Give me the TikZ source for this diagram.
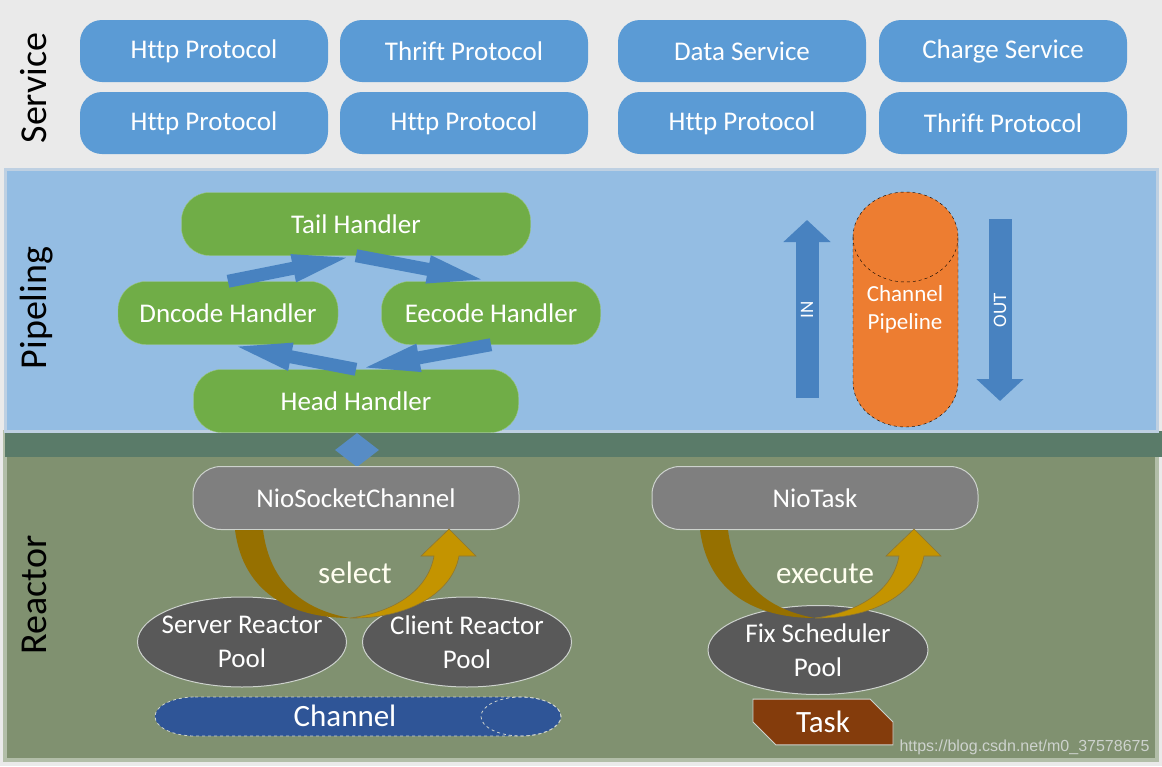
\documentclass[tikz,border=0pt]{standalone}
\usepackage{fontspec}
\setmainfont{Carlito}[Ligatures=NoCommon]
\newfontfamily\urlfont{Liberation Sans}
\usetikzlibrary{shapes.geometric,shapes.misc,arrows.meta}
\definecolor{bggray}{RGB}{234,234,234}
\definecolor{pipeblue}{RGB}{148,189,227}
\definecolor{pipeedge}{RGB}{190,208,226}
\definecolor{bandgreen}{RGB}{90,123,105}
\definecolor{reactgreen}{RGB}{128,145,112}
\definecolor{reactedge}{RGB}{178,190,168}
\definecolor{servblue}{RGB}{91,155,213}
\definecolor{handgreen}{RGB}{112,173,71}
\definecolor{arrowblue}{RGB}{72,130,192}
\definecolor{chanorange}{RGB}{237,125,49}
\definecolor{niogray}{RGB}{127,127,127}
\definecolor{poolgray}{RGB}{89,89,89}
\definecolor{chanblue}{RGB}{47,85,151}
\definecolor{taskbrown}{RGB}{132,60,12}
\definecolor{golddark}{RGB}{150,112,0}
\definecolor{goldlight}{RGB}{196,148,0}
\definecolor{softline}{RGB}{205,210,205}

\begin{document}
\begin{tikzpicture}[x=1pt,y=-1pt,
    layerlabel/.style={rotate=90, font=\fontsize{38}{40}\selectfont},
    servbox/.style={rectangle, rounded corners=22pt, fill=servblue, text=white, minimum width=248pt, minimum height=62pt, font=\fontsize{27}{30}\selectfont},
    handler/.style={rectangle, rounded corners=28pt, fill=handgreen, draw=handgreen!70!white, text=white, minimum height=63pt, font=\fontsize{27}{30}\selectfont},
    nionode/.style={rectangle, rounded corners=28pt, fill=niogray, draw=softline, line width=1pt, text=white, minimum width=326pt, minimum height=63pt, font=\fontsize{27}{30}\selectfont},
    pool/.style={ellipse, fill=poolgray, draw=softline, line width=1pt, inner sep=0pt},
    pooltext/.style={text=white, align=center, font=\fontsize{27}{34}\selectfont},
    flow/.style={draw=arrowblue, line width=13pt, -{Triangle[length=64pt,width=24pt]}},
    bigflow/.style={draw=arrowblue, line width=23pt, -{Triangle[length=22pt,width=46pt]}},
    flowtext/.style={rotate=90, text=white, font=\fontsize{19}{20}\selectfont},
    verb/.style={text=white!94!yellow, font=\fontsize{31}{34}\selectfont}]

\fill[bggray] (0,0) rectangle (1162,766);
\filldraw[fill=reactgreen, draw=reactedge, line width=4pt] (5,432) rectangle (1157,760);
\fill[bandgreen] (5,431) rectangle (1162,457);
\filldraw[fill=pipeblue, draw=pipeedge, line width=3pt] (5,169) rectangle (1157,431);

\node[layerlabel] (svc) at (34,88) {Service};
\node[layerlabel] (pipe) at (37,308) {Pipeling};
\node[layerlabel] (react) at (34,595) {Reactor};

\node[servbox] (http1) at (204,51) {Http Protocol};
\node[servbox] (thrift1) at (464,51) {Thrift Protocol};
\node[servbox] (data) at (742,51) {Data Service};
\node[servbox] (charge) at (1003,51) {Charge Service};
\node[servbox] (http2) at (204,123) {Http Protocol};
\node[servbox] (http3) at (464,123) {Http Protocol};
\node[servbox] (http4) at (742,123) {Http Protocol};
\node[servbox] (thrift2) at (1003,123) {Thrift Protocol};

\node[handler, minimum width=349pt] (tail) at (356,224) {Tail Handler};
\node[handler, minimum width=220pt] (dncode) at (228,313) {Dncode Handler};
\node[handler, minimum width=219pt] (eecode) at (491,313) {Eecode Handler};
\node[handler, minimum width=325pt] (head) at (356,401) {Head Handler};
\draw[flow] (dncode.north) -- (tail.south);
\draw[flow] (tail.south) -- (eecode.north);
\draw[flow] (head.north) -- (dncode.south);
\draw[flow] (eecode.south) -- (head.north);

\node[diamond, fill=arrowblue!92!white, minimum width=44pt, minimum height=34pt, inner sep=0pt] (link) at (357,450) {};

\coordinate (inbot) at (807,398);
\coordinate (intop) at (807,220);
\draw[bigflow] (inbot) -- (intop);
\node[flowtext] (inlabel) at (807,310) {IN};
\coordinate (outtop) at (1000,219);
\coordinate (outbot) at (1000,401);
\draw[bigflow] (outtop) -- (outbot);
\node[flowtext] (outlabel) at (1000,310) {OUT};

\filldraw[fill=chanorange, draw=black, dashed] (853,237) -- (853,382)
  arc[start angle=180, end angle=360, x radius=52.5pt, y radius=45pt] -- (958,237)
  arc[start angle=0, end angle=180, x radius=52.5pt, y radius=45pt] -- cycle;
\draw[dashed] (853,237) arc[start angle=180, end angle=360, x radius=52.5pt, y radius=45pt];
\node[text=white, align=center, font=\fontsize{23}{28}\selectfont] (chpipe) at (905,309) {Channel\\Pipeline};

\node[nionode] (niosock) at (356,498) {NioSocketChannel};
\node[nionode] (niotask) at (815,498) {NioTask};

\node[pool, minimum width=209pt, minimum height=90pt] (srvpool) at (242,642) {};
\node[pool, minimum width=209pt, minimum height=90pt] (clipool) at (467,642) {};
\node[pool, minimum width=220pt, minimum height=89pt] (fixpool) at (818,650) {};

\foreach \dx in {0,465} {
  \begin{scope}[xshift=\dx pt]
    \fill[golddark] (235,530) .. controls (243,592) and (290,618) .. (350,618)
      .. controls (305,610) and (270,585) .. (263,530) -- cycle;
    \filldraw[fill=goldlight, draw=golddark!60!gray, line width=0.6pt] (350,618) .. controls (405,619) and (452,595) .. (459,556)
      -- (476,556) -- (449,529) -- (421,556) -- (434,556)
      .. controls (428,590) and (395,612) .. (350,618) -- cycle;
  \end{scope}
}

\node[verb] (select) at (355,573) {select};
\node[verb] (execute) at (825,574) {execute};

\node[pooltext] (srvtext) at (srvpool) {Server Reactor\\Pool};
\node[pooltext] (clitext) at (clipool) {Client Reactor\\Pool};
\node[pooltext] (fixtext) at (fixpool) {Fix Scheduler\\Pool};

\filldraw[fill=chanblue, draw=softline, dashed, line width=0.8pt] (195,697) -- (521,697)
  arc[start angle=90, end angle=-90, x radius=40pt, y radius=19.5pt] -- (195,736)
  arc[start angle=270, end angle=90, x radius=40pt, y radius=19.5pt] -- cycle;
\draw[softline, dashed, line width=0.8pt] (521,716.5) ellipse[x radius=40pt, y radius=19.5pt];
\node[text=white, font=\fontsize{31}{34}\selectfont] (channel) at (345,716) {Channel};

\node[chamfered rectangle, chamfered rectangle corners={north east,south west}, chamfered rectangle xsep=12pt, chamfered rectangle ysep=12pt, fill=taskbrown, draw=softline, line width=0.8pt, inner sep=0pt, minimum width=140pt, minimum height=40pt, text=white, font=\fontsize{31}{34}\selectfont] (task) at (823,722) {Task};

\node[anchor=east, text=softline, font=\urlfont\fontsize{16}{18}\selectfont] (wmark) at (1153,747) {https://blog.csdn.net/m0\_37578675};
\end{tikzpicture}
\end{document}
